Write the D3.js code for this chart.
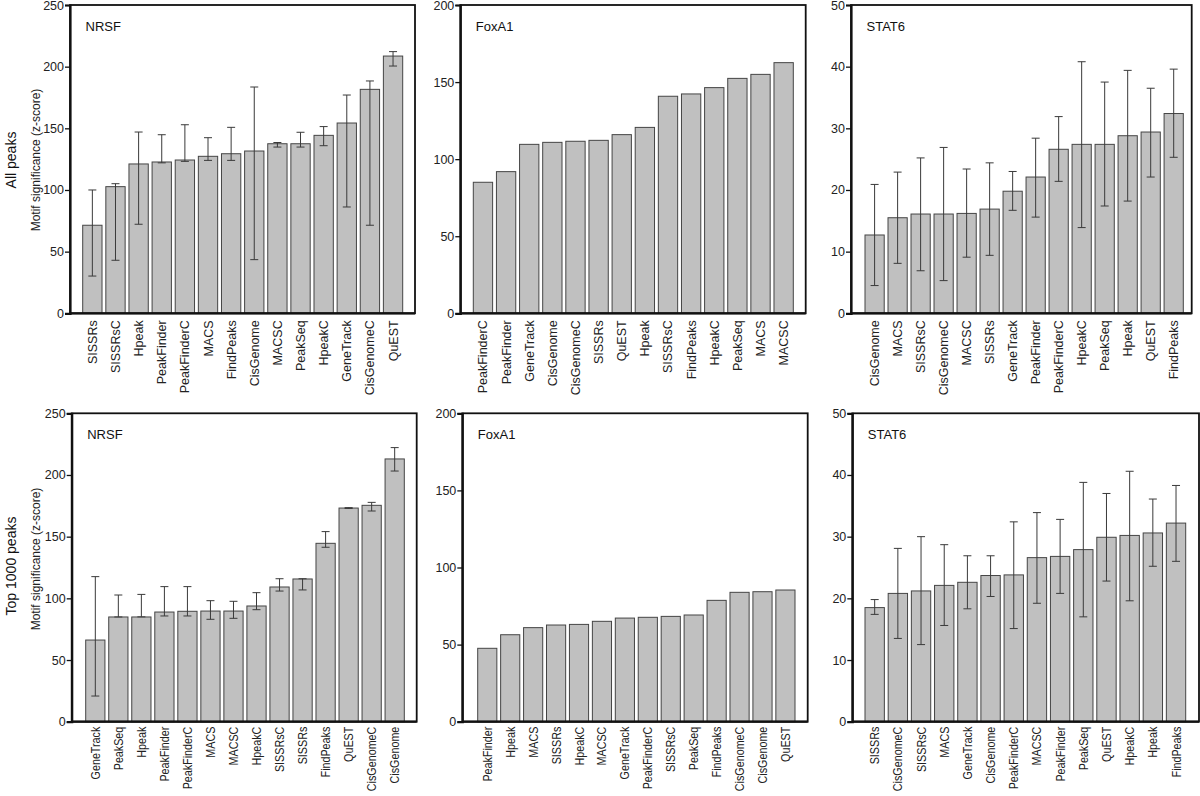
<!DOCTYPE html>
<html><head><meta charset="utf-8">
<script src="https://cdn.jsdelivr.net/npm/d3@7"></script>
<style>
html,body{margin:0;padding:0;background:#fff;}
svg{display:block;font-family:"Liberation Sans",Arial,sans-serif;}
</style></head>
<body>
<svg id="chart" width="1200" height="796"></svg>
<script>
// ---------- DATA ----------
const nrsfTicks = [0, 50, 100, 150, 200, 250];
const foxTicks = [0, 50, 100, 150, 200];
const statTicks = [0, 10, 20, 30, 40, 50];

// All peaks – NRSF
const nrsfAllCats = ["SISSRs","SISSRsC","Hpeak","PeakFinder","PeakFinderC","MACS","FindPeaks","CisGenome","MACSC","PeakSeq","HpeakC","GeneTrack","CisGenomeC","QuEST"];
const nrsfAllVals = [71.4,102.7,121.1,122.7,124.3,127.3,129.4,131.6,137.5,137.5,144.3,154.3,181.6,208.6];
const nrsfAllLow  = [30.2,43.0,72.2,122.0,123.2,124.0,124.0,43.5,134.8,134.8,135.9,86.2,71.4,200.5];
const nrsfAllHigh = [100.0,105.1,147.0,144.8,152.9,142.4,150.8,183.5,138.5,146.8,151.4,177.0,188.4,212.2];

// All peaks – FoxA1
const foxAllCats = ["PeakFinderC","PeakFinder","GeneTrack","CisGenome","CisGenomeC","SISSRs","QuEST","Hpeak","SISSRsC","FindPeaks","HpeakC","PeakSeq","MACS","MACSC"];
const foxAllVals = [85.0,91.9,109.6,110.9,111.6,112.2,115.9,120.6,140.8,142.3,146.4,152.4,155.0,162.6];

// All peaks – STAT6
const statAllCats = ["CisGenome","MACS","SISSRsC","CisGenomeC","MACSC","SISSRs","GeneTrack","PeakFinder","PeakFinderC","HpeakC","PeakSeq","Hpeak","QuEST","FindPeaks"];
const statAllVals = [12.7,15.5,16.1,16.1,16.2,16.9,19.8,22.1,26.6,27.4,27.4,28.8,29.4,32.4];
const statAllLow  = [4.5,8.1,6.9,5.3,9.1,9.4,16.7,15.6,21.4,13.9,17.4,18.2,22.1,25.3];
const statAllHigh = [20.9,22.9,25.2,26.9,23.4,24.4,23.0,28.4,31.9,40.8,37.5,39.4,36.5,39.6];

// Top 1000 peaks – NRSF
const nrsfTopCats = ["GeneTrack","PeakSeq","Hpeak","PeakFinder","PeakFinderC","MACS","MACSC","HpeakC","SISSRsC","SISSRs","FindPeaks","QuEST","CisGenomeC","CisGenome"];
const nrsfTopVals = [66.2,84.9,84.9,88.9,89.5,89.7,89.7,93.8,109.2,115.7,144.6,173.2,175.4,213.0];
const nrsfTopLow  = [20.8,84.9,85.0,85.7,85.7,83.0,83.8,90.8,105.9,106.8,141.4,172.9,170.8,203.2];
const nrsfTopHigh = [117.6,102.7,103.2,109.5,109.5,98.1,97.6,104.6,115.9,115.9,154.1,173.5,177.8,222.2];

// Top 1000 peaks – FoxA1
const foxTopCats = ["PeakFinder","Hpeak","MACS","SISSRs","HpeakC","MACSC","GeneTrack","PeakFinderC","SISSRsC","PeakSeq","FindPeaks","CisGenomeC","CisGenome","QuEST"];
const foxTopVals = [47.6,56.4,61.0,62.7,63.1,65.1,67.2,67.7,68.3,69.2,78.7,83.9,84.3,85.4];

// Top 1000 peaks – STAT6
const statTopCats = ["SISSRs","CisGenomeC","SISSRsC","MACS","GeneTrack","CisGenome","PeakFinderC","MACSC","PeakFinder","PeakSeq","QuEST","HpeakC","Hpeak","FindPeaks"];
const statTopVals = [18.5,20.8,21.2,22.1,22.6,23.7,23.8,26.6,26.8,27.9,29.9,30.2,30.6,32.2];
const statTopLow  = [17.4,13.5,12.5,15.6,18.3,20.3,15.1,19.2,20.8,17.0,22.8,19.6,25.2,26.0];
const statTopHigh = [19.8,28.1,30.0,28.7,26.9,26.9,32.4,33.9,32.8,38.8,37.0,40.6,36.1,38.3];

const rowLabels = ["All peaks", "Top 1000 peaks"];
const yTitle = "Motif significance (z-score)";

// ---------- LAYOUT ----------
const panels = [
  {title:"NRSF", cats:nrsfAllCats, vals:nrsfAllVals, lo:nrsfAllLow, hi:nrsfAllHigh, ticks:nrsfTicks,
   fx:[70,415], fy:[5,313.3], bx:[82.7,402.7], lab:{off:7, sx:1}},
  {title:"FoxA1", cats:foxAllCats, vals:foxAllVals, ticks:foxTicks,
   fx:[460.3,805.7], fy:[5,313.3], bx:[473.3,793.3], lab:{off:7, sx:1}},
  {title:"STAT6", cats:statAllCats, vals:statAllVals, lo:statAllLow, hi:statAllHigh, ticks:statTicks,
   fx:[851,1191.7], fy:[5,313.3], bx:[865,1183.3], lab:{off:7, sx:1}},
  {title:"NRSF", cats:nrsfTopCats, vals:nrsfTopVals, lo:nrsfTopLow, hi:nrsfTopHigh, ticks:nrsfTicks,
   fx:[71.7,416.7], fy:[413.3,721.7], bx:[85.7,404.3], lab:{off:5, sx:0.86}},
  {title:"FoxA1", cats:foxTopCats, vals:foxTopVals, ticks:foxTicks,
   fx:[462.3,807.7], fy:[413.3,721.7], bx:[477.7,795], lab:{off:5, sx:0.86}},
  {title:"STAT6", cats:statTopCats, vals:statTopVals, lo:statTopLow, hi:statTopHigh, ticks:statTicks,
   fx:[852.3,1199], fy:[413.3,721.7], bx:[865,1185.7], lab:{off:5, sx:0.86}}
];

const svg = d3.select("#chart");

panels.forEach(p => {
  const g = svg.append("g");
  const x = d3.scaleBand().domain(p.cats).range(p.bx).paddingInner(0.165).paddingOuter(0);
  const yMax = p.ticks[p.ticks.length - 1];
  const y = d3.scaleLinear().domain([0, yMax]).range([p.fy[1], p.fy[0]]);

  // bars
  g.selectAll("rect.bar").data(p.cats).join("rect")
    .attr("class","bar")
    .attr("x", d => x(d))
    .attr("width", x.bandwidth())
    .attr("y", (d,i) => y(p.vals[i]))
    .attr("height", (d,i) => y(0) - y(p.vals[i]))
    .attr("fill", "#c0c0c0")
    .attr("stroke", "#454545")
    .attr("stroke-width", 1);

  // error bars
  if (p.lo) {
    const eg = g.append("g").attr("stroke","#3a3a3a").attr("stroke-width",1).attr("fill","none");
    p.cats.forEach((c,i) => {
      const cx = x(c) + x.bandwidth()/2;
      eg.append("line").attr("x1",cx).attr("x2",cx).attr("y1",y(p.lo[i])).attr("y2",y(p.hi[i]));
      eg.append("line").attr("x1",cx-4).attr("x2",cx+4).attr("y1",y(p.lo[i])).attr("y2",y(p.lo[i]));
      eg.append("line").attr("x1",cx-4).attr("x2",cx+4).attr("y1",y(p.hi[i])).attr("y2",y(p.hi[i]));
    });
  }

  // frame
  g.append("rect")
    .attr("x", p.fx[0]).attr("y", p.fy[0])
    .attr("width", p.fx[1]-p.fx[0]).attr("height", p.fy[1]-p.fy[0])
    .attr("fill","none").attr("stroke","#111").attr("stroke-width",1.8);

  // y axis
  const ax = g.append("g").attr("transform", `translate(${p.fx[0]},0)`)
    .call(d3.axisLeft(y).tickValues(p.ticks).tickSize(5).tickPadding(1).tickFormat(d3.format("d")));
  ax.select(".domain").attr("stroke","#111").attr("stroke-width",2.2);
  ax.selectAll(".tick line").attr("stroke","#111").attr("stroke-width",1.3);
  ax.selectAll(".tick text").attr("fill","#222").style("font-size","12.5px")
    .style("font-family","'Liberation Sans',Arial,sans-serif");

  // bottom axis line
  g.append("line").attr("x1",p.fx[0]).attr("x2",p.fx[1]).attr("y1",p.fy[1]).attr("y2",p.fy[1])
    .attr("stroke","#111").attr("stroke-width",2.2);

  // x labels
  g.selectAll("text.xl").data(p.cats).join("text")
    .attr("class","xl")
    .attr("transform", d => `translate(${x(d)+x.bandwidth()/2+4.5},${p.fy[1]+p.lab.off}) rotate(-90) scale(${p.lab.sx},1)`)
    .attr("text-anchor","end")
    .attr("fill","#222")
    .style("font-size","12.5px")
    .text(d => d);

  // panel title
  g.append("text").attr("x", p.fx[0]+15.5).attr("y", p.fy[0]+25.5)
    .attr("fill","#111").style("font-size","13px").text(p.title);
});

// row labels and y titles
const rowCenters = [160, 566];
const titleCenters = [160, 559];
rowLabels.forEach((t,i) => {
  svg.append("text")
    .attr("transform", `translate(16,${rowCenters[i]}) rotate(-90)`)
    .attr("text-anchor","middle").attr("fill","#111")
    .style("font-size","14px").text(t);
  svg.append("text")
    .attr("transform", `translate(40,${titleCenters[i]}) rotate(-90)`)
    .attr("text-anchor","middle").attr("fill","#222")
    .style("font-size","12px").text(yTitle);
});
</script>
</body></html>
